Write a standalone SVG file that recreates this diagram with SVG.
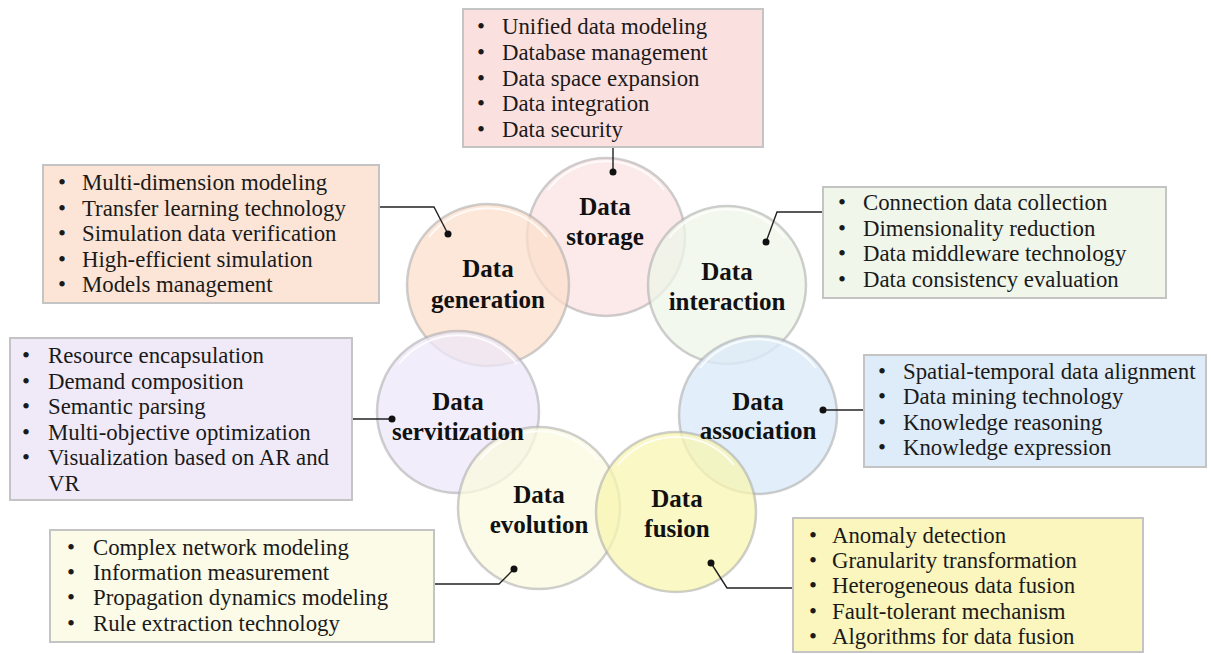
<svg xmlns="http://www.w3.org/2000/svg" width="1211" height="654" viewBox="0 0 1211 654">
<style>
.box{stroke:#c4c4c4;stroke-width:2}
.circ{stroke:#a8a8a8;stroke-opacity:0.55;stroke-width:2.5}
.hl{fill:none;stroke:#ffffff;stroke-opacity:0.8;stroke-width:2}
.li{font-family:"Liberation Serif","Times New Roman",serif;font-size:22.8px;fill:#1a1a1a}
.lb{font-family:"Liberation Serif","Times New Roman",serif;font-size:25px;font-weight:bold;fill:#111;text-anchor:middle}
.con{fill:none;stroke:#222;stroke-width:1.4}
.dot{fill:#111}
</style>
<rect width="1211" height="654" fill="#ffffff"/>

<g id="circles">
<g id="c-storage"><circle class="circ" cx="606" cy="237" r="79" fill="#fbe3e3" fill-opacity="0.75"/><path class="hl" d="M548,190 A73,73 0 0 1 664,190"/></g>
<g id="c-generation"><circle class="circ" cx="488" cy="285" r="81" fill="#fbdfcb" fill-opacity="0.75"/><path class="hl" d="M429,237 A75,75 0 0 1 547,237"/></g>
<g id="c-interaction"><circle class="circ" cx="727" cy="285" r="79" fill="#eef6e7" fill-opacity="0.75"/><path class="hl" d="M669,238 A73,73 0 0 1 785,238"/></g>
<g id="c-association"><circle class="circ" cx="758" cy="415" r="79" fill="#dbeaf8" fill-opacity="0.8"/><path class="hl" d="M700,368 A73,73 0 0 1 816,368"/></g>
<g id="c-servitization"><circle class="circ" cx="458" cy="412" r="81" fill="#eee7f8" fill-opacity="0.75"/><path class="hl" d="M399,364 A75,75 0 0 1 517,364"/></g>
<g id="c-evolution"><circle class="circ" cx="539" cy="508" r="81" fill="#fafadf" fill-opacity="0.75"/><path class="hl" d="M480,460 A75,75 0 0 1 598,460"/></g>
<g id="c-fusion"><circle class="circ" cx="676" cy="512" r="80" fill="#f8f5b0" fill-opacity="0.75"/><path class="hl" d="M618,465 A74,74 0 0 1 734,465"/></g>
</g>

<g id="circle-labels">
<text class="lb" x="605" y="215">Data</text><text class="lb" x="605" y="245">storage</text>
<text class="lb" x="488" y="277">Data</text><text class="lb" x="488" y="308">generation</text>
<text class="lb" x="727" y="280">Data</text><text class="lb" x="727" y="310">interaction</text>
<text class="lb" x="758" y="410">Data</text><text class="lb" x="758" y="439">association</text>
<text class="lb" x="458" y="410">Data</text><text class="lb" x="458" y="440">servitization</text>
<text class="lb" x="539" y="503">Data</text><text class="lb" x="539" y="533">evolution</text>
<text class="lb" x="677" y="507">Data</text><text class="lb" x="677" y="537">fusion</text>
</g>

<g id="connectors">
<polyline class="con" points="613,172 613,147"/>
<polyline class="con" points="448,234 434,207 379,207"/>
<polyline class="con" points="766,242 777,212 823,212"/>
<polyline class="con" points="823,410 864,410"/>
<polyline class="con" points="711,563 727,588 793,588"/>
<polyline class="con" points="514,569 499,584 434,584"/>
<polyline class="con" points="392,419 352,419"/>
<circle class="dot" cx="613" cy="172" r="3.5"/>
<circle class="dot" cx="448" cy="234" r="3.5"/>
<circle class="dot" cx="766" cy="242" r="3.5"/>
<circle class="dot" cx="823" cy="410" r="3.5"/>
<circle class="dot" cx="711" cy="563" r="3.5"/>
<circle class="dot" cx="514" cy="569" r="3.5"/>
<circle class="dot" cx="392" cy="419" r="3.5"/>
</g>

<g id="box-storage">
<rect class="box" x="463" y="9" width="300" height="138" fill="#fae0df"/>
<text class="li" x="477" y="34">•</text><text class="li" x="502" y="34">Unified data modeling</text>
<text class="li" x="477" y="60">•</text><text class="li" x="502" y="60">Database management</text>
<text class="li" x="477" y="85.5">•</text><text class="li" x="502" y="85.5">Data space expansion</text>
<text class="li" x="477" y="111">•</text><text class="li" x="502" y="111">Data integration</text>
<text class="li" x="477" y="136.5">•</text><text class="li" x="502" y="136.5">Data security</text>
</g>

<g id="box-generation">
<rect class="box" x="43" y="165" width="336" height="138" fill="#fce5d6"/>
<text class="li" x="58" y="190">•</text><text class="li" x="82" y="190">Multi-dimension modeling</text>
<text class="li" x="58" y="216">•</text><text class="li" x="82" y="216">Transfer learning technology</text>
<text class="li" x="58" y="241">•</text><text class="li" x="82" y="241">Simulation data verification</text>
<text class="li" x="58" y="267">•</text><text class="li" x="82" y="267">High-efficient simulation</text>
<text class="li" x="58" y="292">•</text><text class="li" x="82" y="292">Models management</text>
</g>

<g id="box-interaction">
<rect class="box" x="823" y="187" width="343" height="111" fill="#f0f6ea"/>
<text class="li" x="838" y="210">•</text><text class="li" x="863" y="210">Connection data collection</text>
<text class="li" x="838" y="236">•</text><text class="li" x="863" y="236">Dimensionality reduction</text>
<text class="li" x="838" y="261">•</text><text class="li" x="863" y="261">Data middleware technology</text>
<text class="li" x="838" y="287">•</text><text class="li" x="863" y="287">Data consistency evaluation</text>
</g>

<g id="box-servitization">
<rect class="box" x="10" y="338" width="342" height="162" fill="#f0eaf8"/>
<text class="li" x="22" y="363">•</text><text class="li" x="48" y="363">Resource encapsulation</text>
<text class="li" x="22" y="389">•</text><text class="li" x="48" y="389">Demand composition</text>
<text class="li" x="22" y="414">•</text><text class="li" x="48" y="414">Semantic parsing</text>
<text class="li" x="22" y="440">•</text><text class="li" x="48" y="440">Multi-objective optimization</text>
<text class="li" x="22" y="465">•</text><text class="li" x="48" y="465">Visualization based on AR and</text>
<text class="li" x="48" y="491">VR</text>
</g>

<g id="box-association">
<rect class="box" x="864" y="355" width="342" height="112" fill="#deebf8"/>
<text class="li" x="878" y="379">•</text><text class="li" x="903" y="379">Spatial-temporal data alignment</text>
<text class="li" x="878" y="404">•</text><text class="li" x="903" y="404">Data mining technology</text>
<text class="li" x="878" y="430">•</text><text class="li" x="903" y="430">Knowledge reasoning</text>
<text class="li" x="878" y="455">•</text><text class="li" x="903" y="455">Knowledge expression</text>
</g>

<g id="box-evolution">
<rect class="box" x="50" y="530" width="384" height="112" fill="#fcfbe7"/>
<text class="li" x="67" y="555">•</text><text class="li" x="93" y="555">Complex network modeling</text>
<text class="li" x="67" y="580">•</text><text class="li" x="93" y="580">Information measurement</text>
<text class="li" x="67" y="605">•</text><text class="li" x="93" y="605">Propagation dynamics modeling</text>
<text class="li" x="67" y="631">•</text><text class="li" x="93" y="631">Rule extraction technology</text>
</g>

<g id="box-fusion">
<rect class="box" x="793" y="518" width="350" height="134" fill="#fbf6bd"/>
<text class="li" x="809" y="543">•</text><text class="li" x="832" y="543">Anomaly detection</text>
<text class="li" x="809" y="568">•</text><text class="li" x="832" y="568">Granularity transformation</text>
<text class="li" x="809" y="593">•</text><text class="li" x="832" y="593">Heterogeneous data fusion</text>
<text class="li" x="809" y="619">•</text><text class="li" x="832" y="619">Fault-tolerant mechanism</text>
<text class="li" x="809" y="644">•</text><text class="li" x="832" y="644">Algorithms for data fusion</text>
</g>
</svg>
